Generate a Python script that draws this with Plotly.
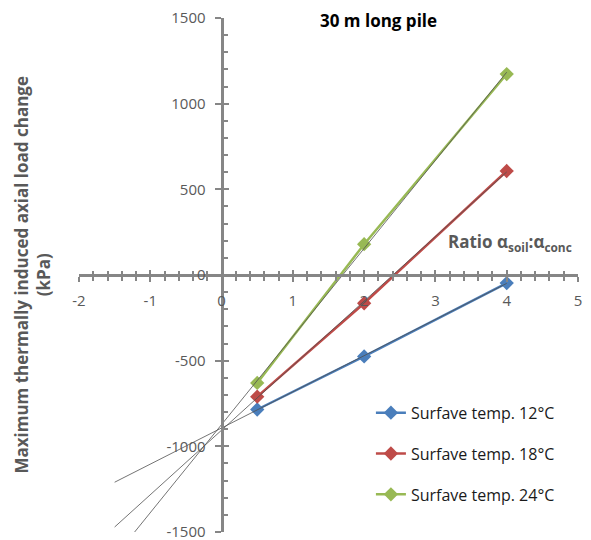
import numpy as np
import plotly.graph_objects as go

# Ratio alpha_soil : alpha_conc
ratio = [0.5, 2, 4]

# Maximum thermally induced axial load change (kPa) per surface temperature
load_12 = [-785, -475, -47]
load_18 = [-710, -165, 607]
load_24 = [-630, 180, 1173]

series_names = ["Surfave temp. 12°C", "Surfave temp. 18°C", "Surfave temp. 24°C"]
series_colors = ["#4A7EBB", "#BE4B48", "#98B954"]

# axis ticks and their labels (plain hyphen minus)
x_ticks = [-2, -1, 0, 1, 2, 3, 4, 5]
x_tick_labels = ["-2", "-1", "0", "1", "2", "3", "4", "5"]
y_ticks = [-1500, -1000, -500, 0, 500, 1000, 1500]
y_tick_labels = ["-1500", "-1000", "-500", "0", "500", "1000", "1500"]

# linear trendlines are extended back to this ratio
trend_start = -1.5

x_range = [-2, 5]
y_range = [-1500, 1500]

AXIS_GREY = "#868686"
TEXT_GREY = "#595959"
FONT = "Open Sans"

fig = go.Figure()

for name, color, values in zip(series_names, series_colors, [load_12, load_18, load_24]):
    fig.add_trace(go.Scatter(
        x=ratio, y=values, name=name, mode="lines+markers",
        line=dict(color=color, width=2.5),
        marker=dict(symbol="diamond", size=11, color=color),
        legendgroup=name,
    ))

# least-squares trendlines through each series
for values in [load_12, load_18, load_24]:
    slope, intercept = np.polyfit(ratio, values, 1)
    xs = np.array([trend_start, max(ratio)])
    fig.add_trace(go.Scatter(
        x=xs, y=slope * xs + intercept, mode="lines",
        line=dict(color="#505050", width=0.8),
        showlegend=False, hoverinfo="skip",
    ))

# invisible trace so the overlay axes (inner half of crossing ticks) are drawn
fig.add_trace(go.Scatter(x=[None], y=[None], xaxis="x2", yaxis="y2",
                         showlegend=False, hoverinfo="skip"))

x_pos = (0 - x_range[0]) / (x_range[1] - x_range[0])
y_pos = (0 - y_range[0]) / (y_range[1] - y_range[0])

tick_font = dict(family=FONT, size=15, color=TEXT_GREY)

fig.update_layout(
    width=591, height=540,
    margin=dict(l=79, r=13, t=18, b=8),
    plot_bgcolor="white", paper_bgcolor="white",
    xaxis=dict(
        range=x_range, tickvals=x_ticks, ticktext=x_tick_labels,
        anchor="free", position=y_pos, automargin=False,
        showline=True, linecolor=AXIS_GREY, linewidth=3,
        ticks="outside", ticklen=5, tickwidth=2, tickcolor=AXIS_GREY,
        minor=dict(ticks="outside", ticklen=4, tickwidth=2, dtick=0.2, tickcolor=AXIS_GREY),
        showgrid=False, zeroline=False, tickfont=tick_font,
        ticklabelstandoff=6, ticklabeloverflow="allow",
    ),
    xaxis2=dict(
        range=x_range, tickvals=x_ticks, overlaying="x", anchor="free", position=y_pos,
        automargin=False,
        showline=False, ticks="inside", ticklen=5, tickwidth=2, tickcolor=AXIS_GREY,
        minor=dict(ticks="inside", ticklen=4, tickwidth=2, dtick=0.2, tickcolor=AXIS_GREY),
        showgrid=False, zeroline=False, showticklabels=False,
    ),
    yaxis=dict(
        range=y_range, tickvals=y_ticks, ticktext=y_tick_labels,
        anchor="free", position=x_pos, automargin=False,
        showline=True, linecolor=AXIS_GREY, linewidth=3,
        ticks="outside", ticklen=6, tickwidth=2, tickcolor=AXIS_GREY,
        showgrid=False, zeroline=False, tickfont=tick_font,
        ticklabelstandoff=6, ticklabeloverflow="allow",
    ),
    yaxis2=dict(
        range=y_range, tickvals=y_ticks, overlaying="y", anchor="free", position=x_pos,
        automargin=False,
        showline=False, ticks="inside", ticklen=6, tickwidth=2, tickcolor=AXIS_GREY,
        minor=dict(ticks="inside", ticklen=5, tickwidth=2, dtick=100, tickcolor=AXIS_GREY),
        showgrid=False, zeroline=False, showticklabels=False,
    ),
    legend=dict(
        x=0.585, y=0.265, xanchor="left", yanchor="top",
        font=dict(family=FONT, size=16, color="#1a1a1a"),
        bgcolor="rgba(0,0,0,0)", tracegroupgap=17, traceorder="grouped",
    ),
    showlegend=True,
)

fig.add_annotation(
    text="<b>30 m long pile</b>", xref="paper", yref="paper",
    x=0.601, y=0.996, xanchor="center", yanchor="middle", showarrow=False,
    font=dict(family=FONT, size=17, color="black"),
)
fig.add_annotation(
    text="<b>Ratio α<sub>soil</sub>:α<sub>conc</sub></b>", xref="x", yref="y",
    x=4.04, y=190, xanchor="center", yanchor="middle", showarrow=False,
    font=dict(family=FONT, size=17, color=TEXT_GREY),
)
fig.add_annotation(
    text="<b>Maximum thermally induced axial load change<br>(kPa)</b>",
    xref="paper", yref="paper", x=-0.095, y=0.5, xanchor="center", yanchor="middle",
    textangle=-90, showarrow=False,
    font=dict(family=FONT, size=17, color=TEXT_GREY),
)

fig.write_html("out.html")
